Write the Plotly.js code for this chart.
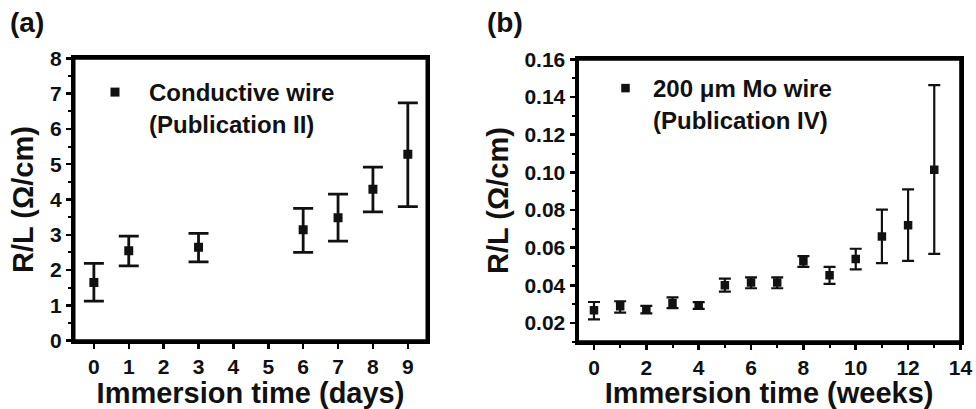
<!DOCTYPE html>
<html>
<head>
<meta charset="utf-8">
<script src="https://cdn.plot.ly/plotly-3.0.1.min.js"></script>
<style>
html,body{margin:0;padding:0;background:#fff;}
#chart{width:976px;height:409px;}
</style>
</head>
<body>
<div id="chart"></div>
<script>
// Panel (a): conductive wire, days
var daysX = [0, 1, 3, 6, 7, 8, 9];
var daysY = [1.65, 2.55, 2.65, 3.14, 3.48, 4.29, 5.28];
var daysErrPlus = [0.54, 0.41, 0.39, 0.61, 0.67, 0.63, 1.46];
var daysErrMinus = [0.53, 0.43, 0.42, 0.64, 0.66, 0.64, 1.48];

// Panel (b): 200 um Mo wire, weeks
var weeksX = [0, 1, 2, 3, 4, 5, 6, 7, 8, 9, 10, 11, 12, 13];
var weeksY = [0.0267, 0.0288, 0.0271, 0.0306, 0.0292, 0.0400, 0.0414, 0.0414, 0.0527, 0.0453, 0.0539, 0.0659, 0.0719, 0.1014];
var weeksErrPlus = [0.0044, 0.0027, 0.0019, 0.0030, 0.0018, 0.0035, 0.0028, 0.0028, 0.0028, 0.0045, 0.0055, 0.0143, 0.0191, 0.0450];
var weeksErrMinus = [0.0048, 0.0033, 0.0020, 0.0028, 0.0018, 0.0034, 0.0030, 0.0030, 0.0029, 0.0046, 0.0055, 0.0141, 0.0189, 0.0447];

var seriesNames = ["Conductive wire<br>(Publication II)", "200 μm Mo wire<br>(Publication IV)"];
var panelLabels = ["(a)", "(b)"];
var xTitles = ["Immersion time (days)", "Immersion time (weeks)"];
var yTitle = "R/L (Ω/cm)";

var W = 976, H = 409;
var FF = "Liberation Sans, Arial, Helvetica, sans-serif";
var ink = "#000000";
var txt = "#111111";
function px(x){ return x / W; }
function py(y){ return 1 - y / H; }

var traces = [
  {
    x: daysX, y: daysY, type: "scatter", mode: "markers",
    name: seriesNames[0], xaxis: "x", yaxis: "y", legend: "legend",
    marker: {symbol: "square", size: 9, color: txt},
    error_y: {type: "data", symmetric: false, array: daysErrPlus, arrayminus: daysErrMinus,
              color: txt, thickness: 2.8, width: 10}
  },
  {
    x: weeksX, y: weeksY, type: "scatter", mode: "markers",
    name: seriesNames[1], xaxis: "x2", yaxis: "y2", legend: "legend2",
    marker: {symbol: "square", size: 8.5, color: txt},
    error_y: {type: "data", symmetric: false, array: weeksErrPlus, arrayminus: weeksErrMinus,
              color: txt, thickness: 2.2, width: 6}
  }
];

var tickFont = {family: FF, size: 21, color: txt, weight: "bold"};
var titleFont = {family: FF, size: 29, color: txt, weight: "bold"};

function axisBase(){
  return {
    showline: true, linecolor: ink, linewidth: 3, mirror: true,
    ticks: "outside", ticklen: 5, tickwidth: 2.5, tickcolor: ink,
    showgrid: false, zeroline: false, automargin: false,
    tickfont: tickFont
  };
}

var xa1 = axisBase();
Object.assign(xa1, {domain: [px(74), px(427)], range: [-0.57, 9.55], dtick: 1, tick0: 0,
  anchor: "y", title: {text: xTitles[0], font: titleFont}});
var ya1 = axisBase();
Object.assign(ya1, {domain: [py(340.7), py(58.3)], range: [-0.001, 8.001], dtick: 1, tick0: 0,
  anchor: "x", title: {text: yTitle, font: titleFont, standoff: 8},
  minor: {dtick: 0.5, ticks: "outside", ticklen: 3, tickwidth: 2, tickcolor: ink}});

var xa2 = axisBase();
Object.assign(xa2, {domain: [px(577.5), px(960.7)], range: [-0.63, 14.01], dtick: 2, tick0: 0,
  anchor: "y2", title: {text: xTitles[1], font: titleFont},
  minor: {dtick: 1, ticks: "outside", ticklen: 3, tickwidth: 2, tickcolor: ink}});
var ya2 = axisBase();
Object.assign(ya2, {domain: [py(341.7), py(59.3)], range: [0.01, 0.1601], dtick: 0.02, tick0: 0,
  tickformat: ".2f", anchor: "x2", title: {text: yTitle, font: titleFont, standoff: 8},
  minor: {dtick: 0.01, ticks: "outside", ticklen: 3, tickwidth: 2, tickcolor: ink}});

var legendFont = {family: FF, size: 24, color: txt, weight: "bold"};

function frame(xr, yr){
  return {type: "rect", xref: xr + " domain", yref: yr + " domain", x0: 0, x1: 1, y0: 0, y1: 1,
          line: {color: ink, width: 3}, fillcolor: "rgba(0,0,0,0)", layer: "above"};
}

var layout = {
  width: W, height: H,
  margin: {l: 0, r: 0, t: 0, b: 0, pad: 0},
  paper_bgcolor: "#ffffff", plot_bgcolor: "#ffffff",
  showlegend: true,
  xaxis: xa1, yaxis: ya1, xaxis2: xa2, yaxis2: ya2,
  shapes: [frame("x", "y"), frame("x2", "y2")],
  legend: {x: px(81), y: py(70), xanchor: "left", yanchor: "top", bgcolor: "rgba(0,0,0,0)",
           borderwidth: 0, font: legendFont, itemwidth: 58, valign: "top", tracegroupgap: 0},
  legend2: {x: px(598), y: py(66), xanchor: "left", yanchor: "top", bgcolor: "rgba(0,0,0,0)",
            borderwidth: 0, font: legendFont, itemwidth: 45, valign: "top", tracegroupgap: 0},
  annotations: [
    {text: panelLabels[0], xref: "paper", yref: "paper", x: px(27), y: py(23), xanchor: "center", yanchor: "middle",
     showarrow: false, font: {family: FF, size: 28, color: txt, weight: "bold"}},
    {text: panelLabels[1], xref: "paper", yref: "paper", x: px(505), y: py(23), xanchor: "center", yanchor: "middle",
     showarrow: false, font: {family: FF, size: 28, color: txt, weight: "bold"}}
  ]
};

Plotly.newPlot("chart", traces, layout, {staticPlot: true, displayModeBar: false});
</script>
</body>
</html>
